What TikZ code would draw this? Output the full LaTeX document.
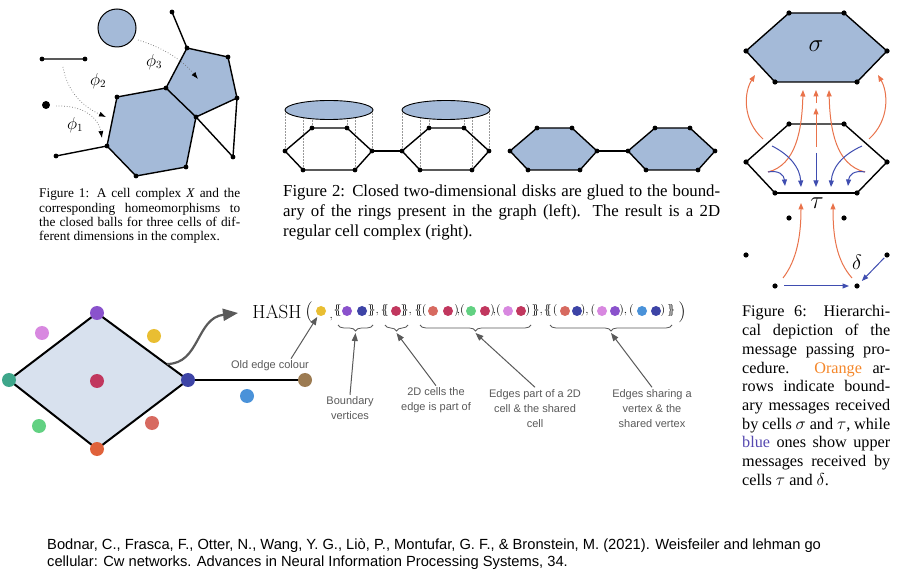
\documentclass[tikz,border=0pt]{standalone}
\usepackage{fontspec}
\usetikzlibrary{arrows.meta,decorations.pathreplacing}
\newfontfamily\capserif{Liberation Serif}
\newfontfamily\capsans{Liberation Sans}
\definecolor{cellblue}{HTML}{A4BAD8}
\definecolor{diamfill}{HTML}{D8E1EE}
\definecolor{bdorange}{HTML}{E9734B}
\definecolor{upblue}{HTML}{3F4DB0}
\definecolor{wordorange}{HTML}{F5872A}
\definecolor{wordblue}{HTML}{5548B0}
\definecolor{annogray}{HTML}{5A5A5A}
\definecolor{cPur}{HTML}{8A52CC}
\definecolor{cDbl}{HTML}{3D44A6}
\definecolor{cOrg}{HTML}{E0623B}
\definecolor{cTea}{HTML}{3EA68A}
\definecolor{cCrm}{HTML}{C1375E}
\definecolor{cPnk}{HTML}{D888E0}
\definecolor{cYel}{HTML}{E9BE32}
\definecolor{cGrn}{HTML}{62D182}
\definecolor{cSal}{HTML}{D76A60}
\definecolor{cLbl}{HTML}{4A92D9}
\definecolor{cBrn}{HTML}{9C7B52}
\newcommand{\mlb}{\{\mkern-6mu\{}
\newcommand{\mrb}{\}\mkern-6mu\}}
\newcommand{\tpair}{)\!,\!(}
\newcommand{\wpair}{),(}
\tikzset{
  celledge/.style={line width=1.4pt,line join=round},
  homeo/.style={black!55,dotted,line width=0.7pt,-{Latex[black,length=7pt,width=5pt]}},
  glue/.style={black!40,densely dotted,line width=0.5pt},
  bmsg/.style={bdorange,line width=1pt,-{Triangle[length=6.5pt,width=5pt]}},
  umsg/.style={upblue,line width=1pt,-{Triangle[length=6.5pt,width=5pt]}},
  capone/.style={font=\capserif\fontsize{13.3}{14.3}\selectfont,inner sep=0pt,anchor=base west},
  captwo/.style={font=\capserif\fontsize{16.8}{20}\selectfont,inner sep=0pt,anchor=base west},
  capsix/.style={font=\capserif\fontsize{16.2}{18.7}\selectfont,inner sep=0pt,anchor=base west},
  citeline/.style={font=\capsans\fontsize{14.7}{17}\selectfont,inner sep=0pt,anchor=base west},
  annot/.style={font=\capsans\fontsize{11}{15}\selectfont,text=annogray,align=center,inner sep=2pt},
  annarrow/.style={annogray,line width=1pt,-{Triangle[length=8pt,width=6pt]}},
  hashsym/.style={font=\fontsize{12}{12}\selectfont,inner sep=0pt},
  hbrace/.style={annogray,line width=0.8pt,decorate,decoration={brace,mirror,amplitude=6pt}},
}
\begin{document}
\begin{tikzpicture}[x=1pt,y=-1pt]
\fill[white] (0,0) rectangle (916,577);
\useasboundingbox (0,0) rectangle (916,577);

\coordinate (h1) at (107,146);
\coordinate (h2) at (117,97);
\coordinate (h3) at (166,88);
\coordinate (h4) at (196,117);
\coordinate (h5) at (186,167);
\coordinate (h6) at (136,176);
\coordinate (p2) at (187,48);
\coordinate (p3) at (228,57);
\coordinate (p4) at (237,98);
\coordinate (ptop) at (172,12);
\coordinate (plow) at (233,157);
\coordinate (hl) at (56,156);
\coordinate (s1) at (42,59);
\coordinate (s2) at (85,59);
\coordinate (pt) at (46,105);
\coordinate (ball) at (117,28);
\fill[cellblue] (h1)--(h2)--(h3)--(h4)--(h5)--(h6)--cycle;
\fill[cellblue] (h3)--(p2)--(p3)--(p4)--(h4)--cycle;
\draw[celledge] (h1)--(h2)--(h3)--(h4)--(h5)--(h6)--cycle;
\draw[celledge] (h3)--(p2)--(p3)--(p4)--(h4);
\draw[celledge] (ptop)--(p2) (p4)--(plow)--(h4) (hl)--(h1) (s1)--(s2);
\draw[line width=1pt,fill=cellblue] (ball) circle (19);
\foreach \v in {h1,h2,h3,h4,h5,h6,p2,p3,p4,ptop,plow,hl,s1,s2}
	\fill (\v) circle (2.4);
\fill (pt) circle (4);
\draw[homeo] (56,106) .. controls (86,105) and (99,120) .. (102,138);
\draw[homeo] (63,67) .. controls (68,96) and (88,109) .. (106,117);
\draw[homeo] (138,40) .. controls (165,48) and (184,62) .. (198,79);
\node[font=\fontsize{16}{16}\selectfont] (phi1) at (75,125) {$\phi_1$};
\node[font=\fontsize{16}{16}\selectfont] (phi2) at (98,81) {$\phi_2$};
\node[font=\fontsize{16}{16}\selectfont] (phi3) at (154,62) {$\phi_3$};
\foreach \t [count=\i] in {{Figure 1: A cell complex \textit{X} and the},{corresponding homeomorphisms to},{the closed balls for three cells of dif-}}
	\node[capone] (capA\i) at (39,{198+14.3*(\i-1)}) {\makebox[201pt][s]{\t}};
\node[capone] (capA4) at (39,241) {ferent dimensions in the complex.};

\foreach \x/\n in {285/a,402/b,510/c,628/d}{
	\coordinate (\n1) at (\x,151);
	\coordinate (\n2) at (\x+27,128);
	\coordinate (\n3) at (\x+62,128);
	\coordinate (\n4) at (\x+87,151);
	\coordinate (\n5) at (\x+70,170);
	\coordinate (\n6) at (\x+18,170);
}
\coordinate (ea) at (329,110);
\coordinate (eb) at (446,110);
\foreach \n in {a,b}
	\foreach \k in {1,...,6}
		\draw[glue] (\n\k) -- (\n\k |- e\n);
\foreach \n in {a,b}
	\draw[line width=0.9pt,fill=cellblue] (e\n) ellipse [x radius=44, y radius=9.5];
\foreach \n in {c,d}
	\fill[cellblue] (\n1)--(\n2)--(\n3)--(\n4)--(\n5)--(\n6)--cycle;
\foreach \n in {a,b,c,d}
	\draw[celledge] (\n1)--(\n2)--(\n3)--(\n4)--(\n5)--(\n6)--cycle;
\draw[celledge] (a4)--(b1) (c4)--(d1);
\foreach \n in {a,b,c,d}
	\foreach \k in {1,...,6}
		\fill (\n\k) circle (2.4);
\foreach \t [count=\i] in {{Figure 2: Closed two-dimensional disks are glued to the bound-},{ary of the rings present in the graph (left).  The result is a 2D}}
	\node[captwo] (capB\i) at (283,{197+20*(\i-1)}) {\makebox[437pt][s]{\t}};
\node[captwo] (capB3) at (283,237) {regular cell complex (right).};

\foreach \y/\n in {0/s,111/t}{
	\coordinate (\n1) at (746,51+\y);
	\coordinate (\n2) at (789,13+\y);
	\coordinate (\n3) at (844,13+\y);
	\coordinate (\n4) at (887,51+\y);
	\coordinate (\n5) at (857,82+\y);
	\coordinate (\n6) at (775,82+\y);
}
\coordinate (u1) at (789,218);
\coordinate (u2) at (844,218);
\coordinate (u3) at (746,255);
\coordinate (u4) at (887,255);
\coordinate (u5) at (775,286);
\coordinate (u6) at (857,286);
\fill[cellblue] (s1)--(s2)--(s3)--(s4)--(s5)--(s6)--cycle;
\draw[celledge] (s1)--(s2)--(s3)--(s4)--(s5)--(s6)--cycle;
\draw[celledge] (t1)--(t2)--(t3)--(t4)--(t5);
\draw[celledge] (t6)--(t1);
\draw[line width=2.2pt] (t5)--(t6);
\foreach \v in {s1,s2,s3,s4,s5,s6,t1,t2,t3,t4,t5,t6,u1,u2,u3,u4,u5,u6}
	\fill (\v) circle (2.6);
\node[font=\fontsize{24}{24}\selectfont] (sigma) at (816,46) {$\sigma$};
\node[font=\fontsize{24}{24}\selectfont] (tau) at (817,203) {$\tau$};
\node[font=\fontsize{21}{21}\selectfont] (delta) at (857,262) {$\delta$};
\draw[bmsg] (763,139) .. controls (742,120) and (744,92) .. (755,75);
\draw[bmsg] (869,139) .. controls (890,120) and (888,92) .. (878,75);
\draw[bmsg] (816,147) -- (816,108);
\draw[bmsg] (816,103) -- (816,90);
\draw[bmsg] (768,172) .. controls (796,165) and (802,130) .. (803,90);
\draw[bmsg] (865,172) .. controls (836,165) and (830,130) .. (829,90);
\draw[bmsg] (783,278) .. controls (797,260) and (801,235) .. (801,203);
\draw[bmsg] (852,278) .. controls (836,260) and (833,235) .. (833,203);
\draw[umsg,shorten <=9pt,shorten >=8pt] (u5) -- (u6);
\draw[umsg,shorten <=4pt,shorten >=7pt] (u4) -- (u6);
\draw[umsg] (768,172) .. controls (779,170) and (784,175) .. (785,186);
\draw[umsg] (772,146) .. controls (790,155) and (800,168) .. (801,187);
\draw[umsg] (816,153) -- (816,187);
\draw[umsg] (862,146) .. controls (842,155) and (832,168) .. (831,187);
\draw[umsg] (865,172) .. controls (854,170) and (849,175) .. (848,186);
\foreach \t [count=\i] in {{Figure 6: Hierarchi-},{cal depiction of the},{message passing pro-},{cedure. \textcolor{wordorange}{Orange} ar-},{rows indicate bound-},{ary messages received},{by cells $\sigma$ and $\tau$, while},{\textcolor{wordblue}{blue} ones show upper},{messages received by}}
	\node[capsix] (capC\i) at (742,{317+18.7*(\i-1)}) {\makebox[148pt][s]{\t}};
\node[capsix] (capC10) at (742,485.3) {cells $\tau$ and $\delta$.};

\coordinate (dt) at (97,313);
\coordinate (dr) at (188,380);
\coordinate (db) at (97,449);
\coordinate (dl) at (9,380);
\coordinate (de) at (305,380);
\draw[line width=2pt,line join=round,fill=diamfill] (dt)--(dr)--(db)--(dl)--cycle;
\draw[line width=2pt] (dr)--(de);
\foreach \p/\c in {dt/cPur,dr/cDbl,db/cOrg,dl/cTea,de/cBrn}
	\fill[\c] (\p) circle (7);
\foreach \x/\y/\c in {97/381/cCrm,42/333/cPnk,154/336/cYel,39/426/cGrn,152/423/cSal,247/396/cLbl}
	\fill[\c] (\x,\y) circle (7);
\draw[annogray,line width=2.2pt,-{Triangle[length=15pt,width=12pt]}] (167,364) .. controls (200,364) and (196,318) .. (238,313);

\node[font=\fontsize{19}{19}\selectfont,inner sep=0pt] (hash) at (277,312) {HASH};
\node[font=\fontsize{21}{21}\selectfont,inner sep=0pt] (lpar) at (309,312) {(};
\node[font=\fontsize{21}{21}\selectfont,inner sep=0pt] (rpar) at (682,312) {)};
\node[hashsym] (com0) at (331.3,319) {$,$};
\foreach \x/\s [count=\i] in {337.6/\mlb,384.8/\mlb,418.6/\mlb,424.2/(,459.5/\tpair,495.5/\tpair,528/),547.8/\mlb,555.2/(,588/\wpair,626.5/\wpair,663/),671/\mrb}
	\node[hashsym] (sym\i) at (\x,311) {$\s$};
\foreach \x [count=\i] in {367.5,400.5,531.5}
	\node[hashsym,anchor=west] (cls\i) at (\x,311) {$\mrb,$};
\coordinate (hy) at (321,311);
\foreach \x/\c in {321/cYel,347/cPur,362/cDbl,396/cCrm,433/cSal,448/cCrm,471/cGrn,485/cCrm,508/cPnk,521/cCrm,565/cSal,577/cDbl,602/cPnk,615/cPur,642/cLbl,656/cDbl}
	\fill[\c] (\x,311) circle (5);
\draw[hbrace] (338,325) -- (373,325);
\draw[hbrace] (385,325) -- (408,325);
\draw[hbrace] (420,325) -- (531,325);
\draw[hbrace] (550,325) -- (672,325);
\coordinate (b1) at (355.5,333);
\coordinate (b2) at (396.5,333);
\coordinate (b3) at (475.5,333);
\coordinate (b4) at (611,333);
\node[annot] (nOld) at (270,366) {Old edge colour};
\node[annot] (nBnd) at (350,408.5) {Boundary\\vertices};
\node[annot] (nCel) at (436,400.5) {2D cells the\\edge is part of};
\node[annot] (nPrt) at (535,408.5) {Edges part of a 2D\\cell \& the shared\\cell};
\node[annot] (nShr) at (652,408.5) {Edges sharing a\\vertex \& the\\shared vertex};
\draw[annarrow,shorten >=7pt] ([xshift=-20pt]nOld.north east) -- (hy);
\draw[annarrow] (nBnd.north) -- (b1);
\draw[annarrow] (nCel.north) -- (b2);
\draw[annarrow] (nPrt.north) -- (b3);
\draw[annarrow] (nShr.north) -- (b4);

\node[citeline] (cit1) at (47,549) {Bodnar, C., Frasca, F., Otter, N., Wang, Y. G., Liò, P., Montufar, G. F., \& Bronstein, M. (2021). Weisfeiler and lehman go};
\node[citeline] (cit2) at (47,566) {cellular: Cw networks. Advances in Neural Information Processing Systems, 34.};
\end{tikzpicture}
\end{document}
